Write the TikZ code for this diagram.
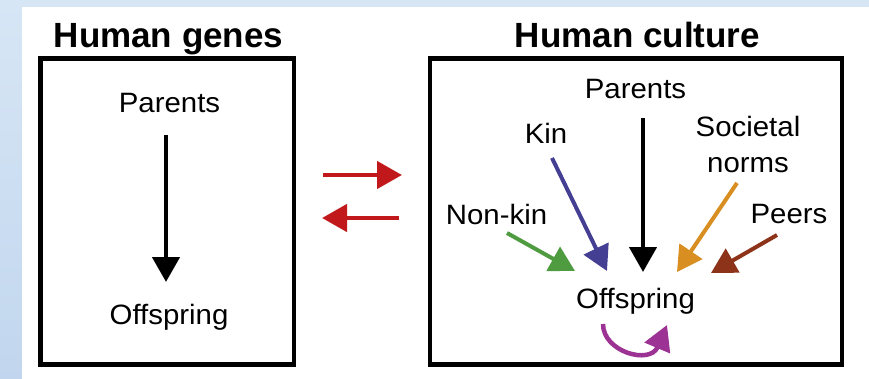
\documentclass[tikz,border=0pt]{standalone}
\usepackage{fontspec}
\setmainfont{Liberation Sans}[FakeStretch=1.05]
\newfontfamily\headfont{Liberation Sans}
\usetikzlibrary{arrows.meta,calc}

\definecolor{bgtop}{RGB}{215,230,245}
\definecolor{bgbot}{RGB}{193,214,238}
\definecolor{swapred}{RGB}{193,25,27}
\definecolor{kinblue}{RGB}{69,63,147}
\definecolor{nonkingreen}{RGB}{79,155,64}
\definecolor{normorange}{RGB}{216,142,32}
\definecolor{peerbrown}{RGB}{140,51,26}
\definecolor{selfpurple}{RGB}{156,51,148}

\begin{document}
\begin{tikzpicture}[x=1pt,y=-1pt,
  box/.style={draw,line width=4.5pt,inner sep=0pt,outer sep=0pt},
  title/.style={font=\headfont\bfseries\fontsize{35}{42}\selectfont,inner sep=0pt,anchor=base},
  lbl/.style={font=\fontsize{28}{36}\selectfont,inner sep=0pt,anchor=base},
  arr/.style={line width=4pt,-{Triangle[length=25pt,width=27pt]}}]
\useasboundingbox (0,0) rectangle (869,379);

%Background
\shade[top color=bgtop,bottom color=bgbot] (0,0) rectangle (869,379);
\fill[white] (22,7) rectangle (869,379);

%Titles
\node[title] (tgenes) at (168.5,48) {Human genes};
\node[title] (tculture) at (637.5,48) {Human culture};

%Shape: Rectangle
\node[box,minimum width=253.5pt,minimum height=306pt] (genes) at (167.25,211.5) {};
%Shape: Rectangle
\node[box,minimum width=412pt,minimum height=306pt] (culture) at (636,211.5) {};

%Genes
\node[lbl] (par1) at (169.5,113) {Parents};
\node[lbl] (off1) at (169,324) {Offspring};
\draw[arr,line width=4.5pt] ($(par1.base)+(-3.5,22)$) -- ($(off1.base)+(-3,-42)$);

%Straight Lines
\draw[arr,line width=4.5pt,color=swapred] ($(genes.east)+(29,-36.5)$) -- ($(culture.west)+(-28,-36.5)$);
\draw[arr,line width=4.5pt,color=swapred] ($(culture.west)+(-31,6.5)$) -- ($(genes.east)+(28,6.5)$);

%Culture
\node[lbl] (par2) at (635.5,99) {Parents};
\node[lbl] (kin) at (546,144) {Kin};
\node[lbl,align=center,anchor=north] (norms) at (748,116.5) {Societal\\norms};
\node[lbl] (nonkin) at (496.5,225) {Non-kin};
\node[lbl] (peers) at (789,224) {Peers};
\node[lbl] (off2) at (635.5,308) {Offspring};

\draw[arr,line width=4.5pt] ($(par2.base)+(7.5,19)$) -- ($(off2.base)+(7.5,-36)$);
\draw[arr,color=kinblue] ($(kin.base)+(6,14)$) -- ($(off2.base)+(-28.5,-37)$);
\draw[arr,color=nonkingreen] ($(nonkin.base)+(10.5,8)$) -- ($(off2.base)+(-60.5,-37)$);
\draw[arr,color=normorange] ($(norms.north)+(-11,66.5)$) -- ($(off2.base)+(41.5,-36)$);
\draw[arr,color=peerbrown] ($(peers.base)+(-12,11)$) -- ($(off2.base)+(75.5,-35)$);

%Curve Lines
\draw[arr,line width=4.5pt,color=selfpurple] ($(off2.base)+(-32.5,16)$) .. controls +(0,28) and +(-17,40) .. ($(off2.base)+(31.5,17)$);

\end{tikzpicture}
\end{document}
